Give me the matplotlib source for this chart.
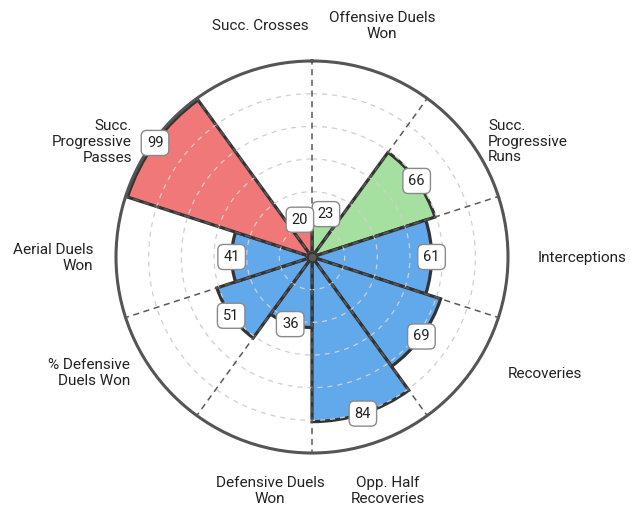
import numpy as np
import matplotlib
matplotlib.use("Agg")
import matplotlib.pyplot as plt

plt.rcParams['font.family'] = ['Roboto', 'DejaVu Sans']

# ------------------------------------------------- data
params = ["Offensive Duels\nWon", "Succ.\nProgressive\nRuns", "Interceptions",
          "Recoveries", "Opp. Half\nRecoveries", "Defensive Duels\nWon",
          "% Defensive\nDuels Won", "Aerial Duels\nWon",
          "Succ.\nProgressive\nPasses", "Succ. Crosses"]
values = [23, 66, 61, 69, 84, 36, 51, 41, 99, 20]
groups = ["att", "att", "def", "def", "def", "def", "def", "def", "pas", "pas"]

# ------------------------------------------------- style
group_colors = {"att": "#a6e0a0", "def": "#62a9ec", "pas": "#f07878"}
# label anchor (compass degrees, radius) and alignment
lab_ang = [16.9, 56.8, 90.3, 120.8, 162.0, 190.2, 237.5, 269.7, 302.6, 347.3]
lab_rad = [123.2, 107.3, 115.3, 116.5, 125.5, 121.3, 110.1, 111.7, 109.0, 120.8]
lab_ha = ["center", "left", "left", "left", "center", "center",
          "right", "right", "right", "center"]

n = len(values)
step = 2 * np.pi / n
centers = np.arange(n) * step + step / 2
bounds = np.arange(n) * step

fig = plt.figure(figsize=(6.43, 5.11), dpi=100)
ax = fig.add_axes([116 / 643, 58 / 511, 392 / 643, 392 / 511], projection="polar")
ax.set_theta_zero_location("N")
ax.set_theta_direction(-1)
ax.set_ylim(0, 100)
ax.grid(False)
ax.set_xticks([])
ax.set_yticks([])
ax.spines["polar"].set_color("#555555")
ax.spines["polar"].set_linewidth(2.2)

cols = [group_colors[g] for g in groups]
ax.bar(centers, values, width=step, color=cols, edgecolor="#333333",
       linewidth=2.3, align="center", zorder=2)

# dashed rings
tt = np.linspace(0, 2 * np.pi, 400)
for r in np.linspace(0, 100, 7)[1:-1]:
    ax.plot(tt, np.full_like(tt, r), ls=(0, (4, 4)), color="#cfcfcf",
            lw=0.9, zorder=3)

# spokes
for b in bounds:
    ax.plot([b, b], [0, 100], ls=(0, (4, 3)), color="#5a5a5a", lw=1.1, zorder=4)

ax.scatter([0], [0], s=45, color="#5a5a5a", edgecolor="#333333",
           linewidth=1.2, zorder=5)

# value boxes
for c, v in zip(centers, values):
    ax.text(c, v, str(v), ha="center", va="center", fontsize=10.5,
            color="#222222", zorder=6,
            bbox=dict(boxstyle="round,pad=0.38", fc="white", ec="#8a8a8a", lw=1))

# parameter labels
for p, a, r, ha in zip(params, lab_ang, lab_rad, lab_ha):
    ax.text(np.deg2rad(a), r, p, ha=ha, va="center", fontsize=11,
            color="#222222", linespacing=1.15, clip_on=False)

fig.savefig("out.png", dpi=100)
